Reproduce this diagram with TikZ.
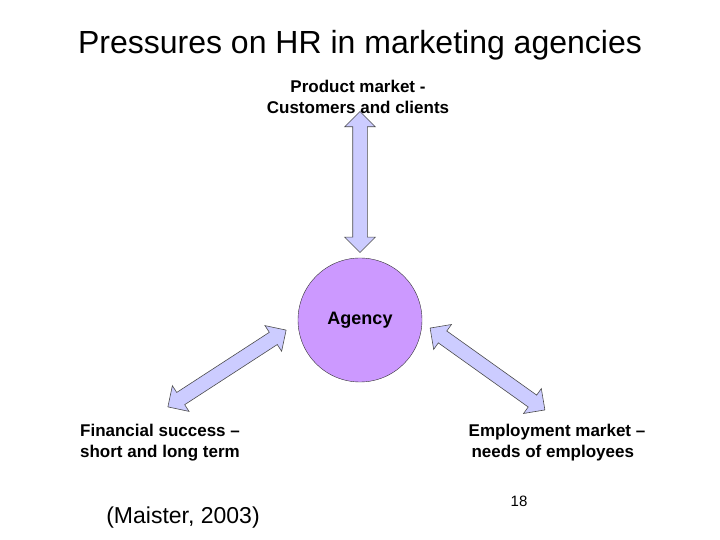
\documentclass[tikz,border=0pt]{standalone}
\usepackage{fontspec}
\setmainfont{Liberation Sans}
\usetikzlibrary{shapes.arrows}
\definecolor{arr}{RGB}{204,204,255}
\definecolor{circ}{RGB}{204,153,255}
\begin{document}
\begin{tikzpicture}[x=1pt,y=1pt,
  fat/.style={double arrow,draw=black!70,fill=arr,line width=0.6pt,inner sep=0pt,
    minimum width=30pt,double arrow head extend=8pt,double arrow head indent=0pt,minimum height=141pt},
  lbl/.style={align=center,font=\fontsize{17}{21}\selectfont\bfseries}]
\useasboundingbox (0,0) rectangle (720,540);
\node (title) at (360,495) {\fontsize{32}{38}\selectfont Pressures on HR in marketing agencies};
\node[lbl] (prod) at (358,443) {Product market -\\Customers and clients};
\node[circle,draw=black!80,fill=circ,minimum size=124pt,font=\fontsize{18}{20}\selectfont\bfseries] (ag) at (360,220) {Agency};
\node[fat] (a1) at (360,358) [rotate=90] {\rule{0pt}{14pt}};
\node[fat] (a2) at (227,171.5) [rotate=33] {\rule{0pt}{14pt}};
\node[fat] (a3) at (487.5,171) [rotate=-35.5] {\rule{0pt}{14pt}};
\node[lbl,align=left] (fin) at (160,97) {Financial success --\\short and long term};
\node[lbl,align=left] (emp) at (557,97) {Employment market --\\\,needs of employees};
\node (ref) at (183,22) {\fontsize{23}{28}\selectfont (Maister, 2003)};
\node (num) at (519,39) {\fontsize{15}{18}\selectfont 18};
\end{tikzpicture}
\end{document}
